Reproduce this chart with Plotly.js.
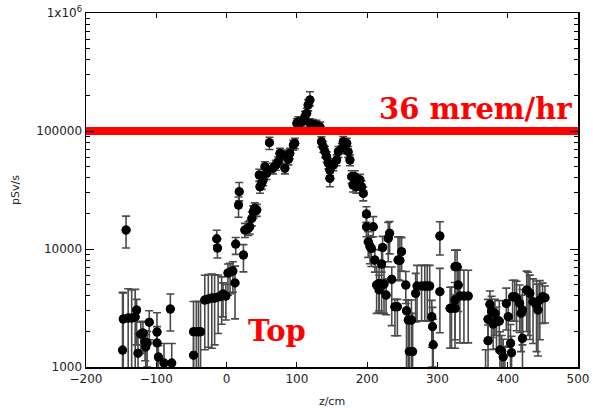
<!DOCTYPE html>
<html>
<head>
<meta charset="utf-8">
<script src="https://cdn.plot.ly/plotly-3.0.1.min.js"></script>
<style>html,body{margin:0;padding:0;background:#fff;}#chart{width:593px;height:408px;}</style>
</head>
<body>
<div id="chart"></div>
<script>
// z position (cm)
const zPos = [
-148,-147,-143,-140,-135,-130,-128,-126,-122,-119,-116,-115,-113,-110,-99,-99,-97,-89,-78,-80,
-47,-47,-43,-40,-37,-31,-26,-21,-17,-12,-7,-5,-1,2,5,9,12,-14,-13,13,17,18,24,
26,31,33,36,38,40,43,46.5,47.5,50,52,54.6,57,61,66,70,73.5,76,80.6,83,88,90,95,97,
100,102,104,108,111.5,114,116,118.6,118.6,123,128,133,135,137.5,140,142.4,144.7,147,147,
152,156.6,159,164,166,171,173,175.5,178,180,182.6,184.6,189.8,192,194.5,
199,199,208.7,201.5,204,206,211,220.6,213.5,217,220.6,224,217,222,227,230,232,235,239.5,243,
244,246.6,249,255,256,258.5,263,260,264.7,269,271,277.5,282,285.5,289,292,293,294,
303.5,303.5,318,320,325,325,325,328,329.6,332,337.7,343.8,
368.5,372,372,374.7,377,379.3,381.8,384,388,389,391.5,393.6,396,398,400.7,404,405.5,
407,410,412.6,417,419,421,421,427,429,431.5,436,441,443,445.7,449.6,453
];
// dose rate (pSv/s)
const doseRate = [
1390,2550,14500,2600,2600,2650,3040,1310,1900,1940,1630,1480,1600,2400,1980,1600,1215,1080,1080,3100,
1260,1990,1990,1990,1990,3700,3770,3840,3840,3920,4000,4160,4000,6260,6380,6500,5160,12200,10200,11000,23600,30600,8900,
14500,15000,15400,18200,20700,22100,21400,42400,33700,36000,38400,49800,43800,79600,48300,51500,54900,64700,62600,48300,57600,64700,76100,78700,
116000,120000,116000,120000,132000,141000,166000,183000,116000,114000,112000,108000,81100,73600,66800,60500,53200,46700,39700,
51500,56800,66800,71300,81100,78700,66800,56800,41000,34900,41000,33700,38400,33700,29600,
19800,15400,15400,11500,10500,10100,8070,7470,4950,5100,4950,5050,4500,10300,4070,12300,13600,5540,3240,3240,
8070,8000,9490,4950,3000,2500,2500,1350,1350,4210,4860,4860,4860,4860,4860,2670,2200,1540,
12900,4350,3140,3140,3140,3700,7080,7080,4950,4000,4000,4000,
1000,1670,2540,3400,2980,2310,2850,2420,2450,1390,1350,1220,1000,3460,2670,1590,1320,
3940,3940,3830,3460,2850,3040,1750,4500,4350,4210,3580,3350,3040,3700,3940,3860
];
// upper error
const errUp = [
2900,1700,4500,2000,1900,1900,700,600,500,500,400,400,400,600,900,600,300,500,500,1050,
700,1600,1600,1600,1600,2300,2300,2300,2200,2100,1800,1000,1000,1200,1200,1300,2000,2200,2000,1500,4000,6000,2000,
2000,2000,2000,2500,2500,2500,2500,5000,4000,4000,4000,5000,5000,9000,5000,5000,5500,6500,6500,5000,6000,6500,7500,8000,
11000,12000,11000,12000,14000,15000,18000,32000,11000,11000,11000,11000,8000,7500,7000,6000,5500,5000,4500,
5500,6000,7000,7000,8500,8000,7000,6000,5000,4500,5000,4000,4500,4000,4000,
3000,3400,3400,2500,2500,2500,1800,2300,2100,2000,2100,2000,1500,2500,1500,4500,3500,1500,500,500,
4600,4700,3000,1500,700,1200,1200,1500,1500,2000,2400,2400,2400,2400,2400,1000,1000,1000,
4100,2500,1600,1600,1600,1500,2700,2700,2000,2600,2600,2600,
400,600,1200,1000,1000,800,900,800,1200,600,500,500,500,1200,1000,700,500,
1500,1500,1500,1500,1200,1500,1000,2000,2000,1800,2000,2000,2000,1700,1200,1000
];
// lower error
const errDown = [
1400,2600,4300,2600,2600,2650,1500,500,600,600,500,500,600,700,2000,1600,400,1100,1100,1080,
1300,2000,2000,2000,2000,2300,2300,2400,2300,2000,1700,1500,1500,2200,2200,2200,2600,1500,1800,2000,5000,5000,2500,
2000,2000,2000,2500,2500,2500,2500,5000,4000,4000,4000,5000,5000,10000,5000,5000,5500,6500,6500,5000,6000,6500,7500,8000,
11000,12000,11000,12000,14000,15000,18000,20000,11000,11000,11000,11000,8000,7500,7000,6000,5500,5000,6000,
5500,6000,7000,7000,8500,8000,7000,6000,5000,4500,5000,4000,4500,4000,4000,
3000,2700,2700,3000,3000,3000,1700,1100,2100,2200,2100,2200,1500,2500,1300,4500,4500,3300,1400,1400,
2600,2600,3000,1500,3000,2500,2500,1350,1350,1800,2400,2400,2400,2400,2400,1200,1200,1000,
4000,2400,1700,1700,1700,2000,3000,3000,2000,2400,2400,2400,
1000,700,900,1000,1200,900,1000,1000,1100,700,800,700,1000,1400,1200,900,600,
1500,1500,1800,1500,1500,1500,1000,2500,2500,2500,2000,2000,1800,2000,1600,1500
];
// 36 mrem/hr limit line
const limitX = [-200, 500];
const limitY = [100000, 100000];
const xTicks = [-200,-100,0,100,200,300,400,500];
const yTicks = [1000,10000,100000,1000000];
const yTickText = ['1000','10000','100000','1x10<sup>6</sup>'];
const yMinor = [2000,3000,4000,5000,6000,7000,8000,9000,20000,30000,40000,50000,60000,70000,80000,90000,200000,300000,400000,500000,600000,700000,800000,900000];

const errTrace = {
  x: zPos, y: doseRate, type: 'scatter', mode: 'markers',
  marker: {color: '#000', size: 9},
  cliponaxis: true,
  error_y: {type: 'data', symmetric: false, array: errUp, arrayminus: errDown,
            color: '#4a4a4a', thickness: 1.6, width: 4},
  showlegend: false, hoverinfo: 'skip'
};
const markerTrace = {
  x: zPos, y: doseRate, type: 'scatter', mode: 'markers',
  marker: {color: '#000', size: 9},
  cliponaxis: false, showlegend: false
};
const limitTrace = {
  x: limitX, y: limitY, type: 'scatter', mode: 'lines',
  line: {color: '#ff0000', width: 8}, showlegend: false, cliponaxis: true
};

const axisFont = {family: 'DejaVu Sans, sans-serif', size: 12, color: '#222'};
const layout = {
  width: 593, height: 408,
  margin: {l: 86, r: 15, t: 13, b: 41},
  paper_bgcolor: '#fff', plot_bgcolor: '#fff',
  font: axisFont,
  xaxis: {
    range: [-200, 500], tickmode: 'array', tickvals: xTicks,
    ticks: 'inside', ticklen: 5, tickcolor: '#000', mirror: 'ticks',
    showline: true, linecolor: '#000', linewidth: 1.5,
    showgrid: false, zeroline: false, tickfont: axisFont,
    title: {text: 'z/cm', font: {family: 'DejaVu Sans, sans-serif', size: 11, color: '#222'}, standoff: 14}
  },
  yaxis: {
    type: 'log', range: [3, 6], tickmode: 'array', tickvals: yTicks, ticktext: yTickText,
    ticks: 'inside', ticklen: 8, tickcolor: '#000', mirror: 'ticks',
    showline: true, linecolor: '#000', linewidth: 1.5,
    showgrid: false, zeroline: false, tickfont: axisFont,
    minor: {tickmode: 'array', tickvals: yMinor, ticks: 'inside', ticklen: 4, tickcolor: '#000', showgrid: false},
    title: {text: 'pSv/s', font: {family: 'DejaVu Sans, sans-serif', size: 11, color: '#222'}, standoff: 14}
  },
  annotations: [
    {xref: 'paper', yref: 'paper', x: 0.592, y: 0.73, xanchor: 'left', yanchor: 'middle',
     text: '<b>36 mrem/hr</b>', showarrow: false,
     font: {family: 'DejaVu Serif, serif', size: 29, color: '#ff0000'}},
    {xref: 'paper', yref: 'paper', x: 0.325, y: 0.103, xanchor: 'left', yanchor: 'middle',
     text: '<b>Top</b>', showarrow: false,
     font: {family: 'DejaVu Serif, serif', size: 29, color: '#ff0000'}}
  ]
};
Plotly.newPlot('chart', [errTrace, markerTrace, limitTrace], layout, {staticPlot: true, displayModeBar: false});
</script>
</body>
</html>
